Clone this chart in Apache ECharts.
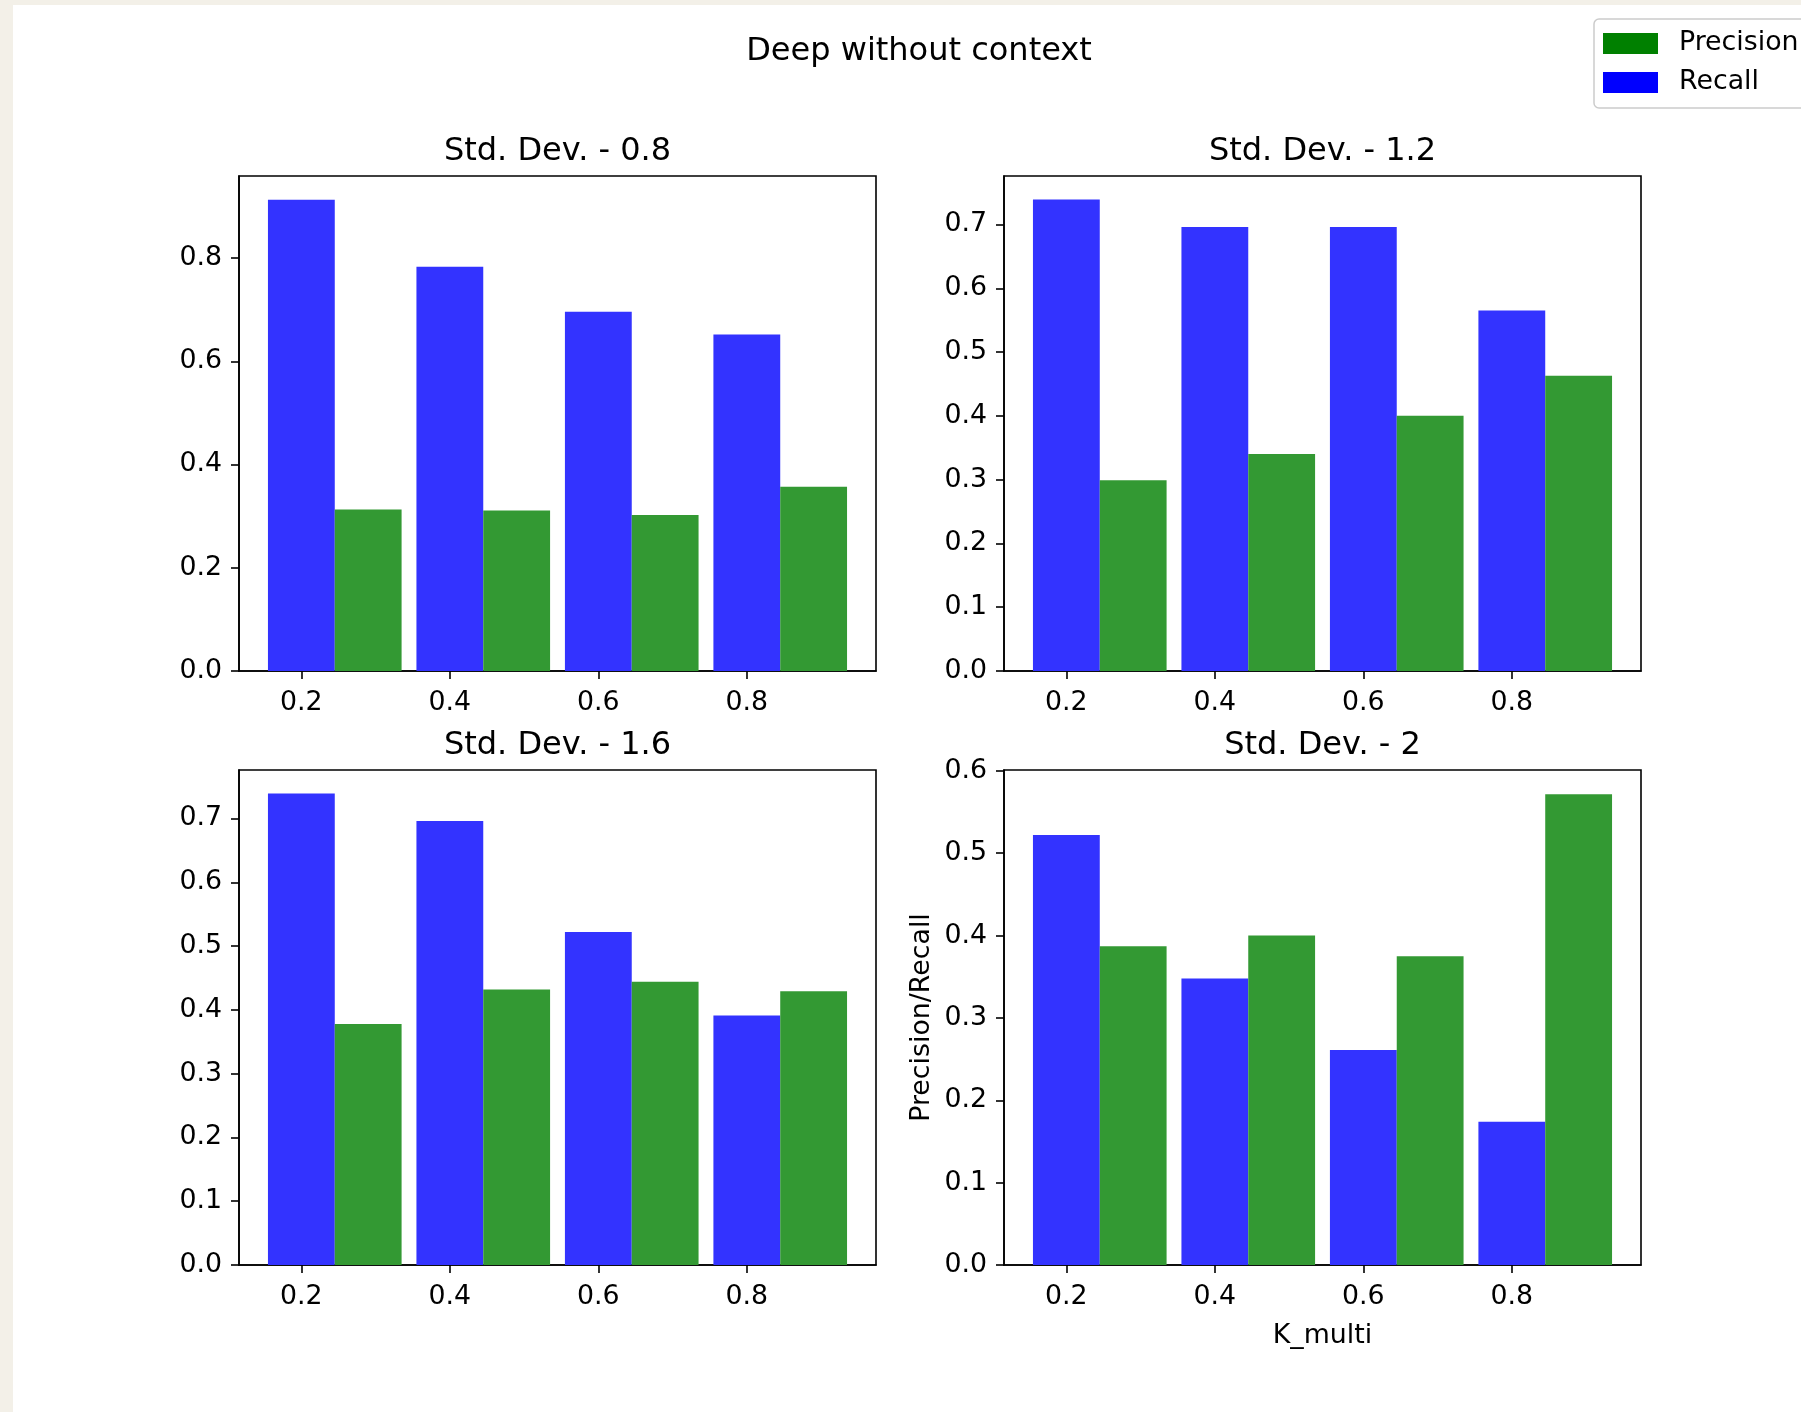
<!DOCTYPE html>
<html>
<head>
<meta charset="utf-8">
<script src="https://cdn.jsdelivr.net/npm/echarts@6/dist/echarts.min.js"></script>
<style>
  html, body { margin: 0; padding: 0; background: #f3f0e8; }
  #sheet { position: absolute; left: 13px; top: 5px; width: 1788px; height: 1407px; background: #ffffff; }
  #chart { position: absolute; left: 0; top: 0; width: 1801px; height: 1412px; }
</style>
</head>
<body>
<div id="sheet"></div>
<div id="chart"></div>
<script>
// K_multi values shared by all four panels
const kMulti = [0.2, 0.4, 0.6, 0.8];

const panelTitles = ['Std. Dev. - 0.8', 'Std. Dev. - 1.2', 'Std. Dev. - 1.6', 'Std. Dev. - 2'];

// Recall / precision per standard deviation
const recall08 = [0.913, 0.783, 0.696, 0.652];
const precision08 = [0.313, 0.311, 0.302, 0.357];

const recall12 = [0.739, 0.696, 0.696, 0.565];
const precision12 = [0.299, 0.340, 0.400, 0.463];

const recall16 = [0.739, 0.696, 0.522, 0.391];
const precision16 = [0.378, 0.432, 0.444, 0.429];

const recall20 = [0.522, 0.348, 0.261, 0.174];
const precision20 = [0.387, 0.400, 0.375, 0.5715];

// Tick labels
const xTicks = [0.2, 0.4, 0.6, 0.8];
const yTicks08 = [0, 0.2, 0.4, 0.6, 0.8];
const yTicks12 = [0, 0.1, 0.2, 0.3, 0.4, 0.5, 0.6, 0.7];
const yTicks16 = [0, 0.1, 0.2, 0.3, 0.4, 0.5, 0.6, 0.7];
const yTicks20 = [0, 0.1, 0.2, 0.3, 0.4, 0.5, 0.6];

const panels = [
  { title: panelTitles[0], recall: recall08, precision: precision08, yTicks: yTicks08 },
  { title: panelTitles[1], recall: recall12, precision: precision12, yTicks: yTicks12 },
  { title: panelTitles[2], recall: recall16, precision: precision16, yTicks: yTicks16 },
  { title: panelTitles[3], recall: recall20, precision: precision20, yTicks: yTicks20 }
];

// Plot-area boxes (px)
const PLOT_W = 637, PLOT_H = 495;
const boxes = [
  { left: 239, top: 176 },
  { left: 1004, top: 176 },
  { left: 239, top: 770 },
  { left: 1004, top: 770 }
];

const BAR_W = 0.09;              // bar width in data units
const FONT = 'DejaVu Sans';
const TICK_FS = 26.8, TITLE_FS = 32;
const BLUE_BAR = '#3333ff', GREEN_BAR = '#339933';

// x extent: bars span [first - w/2, last + 1.5w], padded by 5 %
const xLo = kMulti[0] - BAR_W / 2;
const xHi = kMulti[kMulti.length - 1] + BAR_W * 1.5;
const xPad = (xHi - xLo) * 0.05;

function renderBar(params, api) {
  const x = api.value(0), y = api.value(1);
  const p0 = api.coord([x - BAR_W / 2, y]);
  const p1 = api.coord([x + BAR_W / 2, 0]);
  return {
    type: 'rect',
    shape: { x: p0[0], y: p0[1], width: p1[0] - p0[0], height: p1[1] - p0[1] },
    style: { fill: api.visual('color') }
  };
}

const grids = [], xAxes = [], yAxes = [], series = [], titles = [];

titles.push({
  text: 'Deep without context',
  left: 919, top: 35.5, textAlign: 'center', padding: 0,
  textStyle: { fontFamily: FONT, fontSize: TITLE_FS, fontWeight: 'normal', color: '#000' }
});

panels.forEach((p, i) => {
  const b = boxes[i];
  grids.push({
    left: b.left, top: b.top, width: PLOT_W, height: PLOT_H,
    show: true, borderColor: '#000', borderWidth: 1.6, backgroundColor: '#fff'
  });
  titles.push({
    text: p.title,
    left: b.left + PLOT_W / 2, top: b.top - 40, textAlign: 'center', padding: 0,
    textStyle: { fontFamily: FONT, fontSize: TITLE_FS, fontWeight: 'normal', color: '#000' }
  });

  const peak = Math.max(...p.recall, ...p.precision);
  const yMax = Math.ceil(peak * 1.05 * 1000) / 1000;
  const last = i === 3;

  xAxes.push({
    type: 'value', gridIndex: i,
    min: xLo - xPad, max: xHi + xPad,
    name: last ? 'K_multi' : '',
    nameLocation: 'middle', nameGap: 58,
    nameTextStyle: { fontFamily: FONT, fontSize: TICK_FS, color: '#000' },
    axisLine: { show: true, onZero: false, lineStyle: { color: '#000', width: 1.6 } },
    axisTick: { show: true, length: 8, lineStyle: { color: '#000', width: 1.6 }, customValues: xTicks },
    axisLabel: {
      show: true, margin: 19, customValues: xTicks,
      fontFamily: FONT, fontSize: TICK_FS, color: '#000',
      formatter: v => v.toFixed(1)
    },
    splitLine: { show: false }
  });

  yAxes.push({
    type: 'value', gridIndex: i,
    min: 0, max: yMax,
    name: last ? 'Precision/Recall' : '',
    nameLocation: 'middle', nameGap: 68.5,
    nameTextStyle: { fontFamily: FONT, fontSize: TICK_FS, color: '#000' },
    axisLine: { show: true, onZero: false, lineStyle: { color: '#000', width: 1.6 } },
    axisTick: { show: true, length: 8, lineStyle: { color: '#000', width: 1.6 }, customValues: p.yTicks },
    axisLabel: {
      show: true, margin: 17, customValues: p.yTicks,
      fontFamily: FONT, fontSize: TICK_FS, color: '#000',
      formatter: v => v.toFixed(1)
    },
    splitLine: { show: false }
  });

  series.push({
    type: 'custom', name: 'Recall', xAxisIndex: i, yAxisIndex: i,
    itemStyle: { color: BLUE_BAR },
    renderItem: renderBar,
    data: kMulti.map((k, j) => [k, p.recall[j]])
  });
  series.push({
    type: 'custom', name: 'Precision', xAxisIndex: i, yAxisIndex: i,
    itemStyle: { color: GREEN_BAR },
    renderItem: renderBar,
    data: kMulti.map((k, j) => [k + BAR_W, p.precision[j]])
  });
});

const chart = echarts.init(document.getElementById('chart'), null, { renderer: 'canvas' });
chart.setOption({
  animation: false,
  backgroundColor: 'transparent',
  title: titles,
  legend: {
    orient: 'vertical',
    left: 1594, top: 19,
    padding: [11, 120, 12, 9],
    itemWidth: 55, itemHeight: 21, itemGap: 12,
    icon: 'rect',
    borderColor: '#cccccc', borderWidth: 1.5, borderRadius: 5,
    backgroundColor: 'rgba(255,255,255,0.8)',
    textStyle: { fontFamily: FONT, fontSize: TICK_FS, color: '#000', lineHeight: 21, padding: [0, 0, 0, 16] },
    data: [
      { name: 'Precision', itemStyle: { color: '#008000' } },
      { name: 'Recall', itemStyle: { color: '#0000ff' } }
    ]
  },
  grid: grids,
  xAxis: xAxes,
  yAxis: yAxes,
  series: series
});
</script>
</body>
</html>
